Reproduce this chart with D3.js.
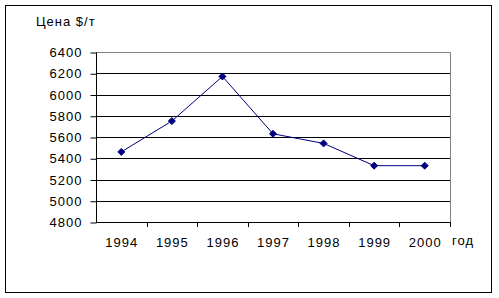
<!DOCTYPE html>
<html>
<head>
<meta charset="utf-8">
<script src="https://cdn.jsdelivr.net/npm/d3@7"></script>
<style>
  body { margin: 0; background: #fff; }
  text { font-family: "Liberation Sans", Arial, sans-serif; fill: #000; letter-spacing: 1px; }
</style>
</head>
<body>
<div class="wrapper"></div>
<script>
// data
const years = ["1994", "1995", "1996", "1997", "1998", "1999", "2000"];
const prices = [5460, 5750, 6170, 5630, 5540, 5330, 5330];
const yTicks = [4800, 5000, 5200, 5400, 5600, 5800, 6000, 6200, 6400];

const width = 499, height = 298;
const plotLeft = 96, plotRight = 450, plotTop = 52, plotBottom = 222;

const svg = d3.select(".wrapper")
  .append("svg")
  .attr("width", width)
  .attr("height", height);

// outer chart frame
svg.append("rect")
  .attr("x", 5.5).attr("y", 5.5)
  .attr("width", 486).attr("height", 287)
  .attr("fill", "none").attr("stroke", "#000").attr("stroke-width", 1);

const x = d3.scaleBand().domain(years).range([plotLeft, plotRight]);
const y = d3.scaleLinear().domain([4800, 6400]).range([plotBottom, plotTop]);

// gridlines
svg.append("g")
  .selectAll("line")
  .data(yTicks.filter(d => d > 4800 && d < 6400))
  .enter()
  .append("line")
  .attr("x1", plotLeft).attr("x2", plotRight)
  .attr("y1", d => Math.round(y(d)) + 0.5)
  .attr("y2", d => Math.round(y(d)) + 0.5)
  .attr("stroke", "#000");

// plot area border (grey top + right)
svg.append("path")
  .attr("d", "M" + plotLeft + "," + (plotTop + 0.5) + "H" + (plotRight + 0.5) + "V" + plotBottom)
  .attr("fill", "none").attr("stroke", "#808080");

// y axis
const yAxis = svg.append("g")
  .attr("transform", "translate(" + (plotLeft + 0.5) + ",0.5)")
  .call(d3.axisLeft(y).tickValues(yTicks).tickSize(6).tickPadding(8).tickFormat(d3.format("d")));
yAxis.select(".domain").attr("stroke", "#000").attr("d", "M0," + plotTop + "V" + plotBottom);
yAxis.selectAll(".tick line").attr("stroke", "#000");
yAxis.selectAll("text").style("font-size", "13px").attr("fill", "#000");

// x axis with ticks at category boundaries
svg.append("line")
  .attr("x1", plotLeft).attr("x2", plotRight + 1)
  .attr("y1", plotBottom + 0.5).attr("y2", plotBottom + 0.5)
  .attr("stroke", "#000");
svg.append("g")
  .selectAll("line")
  .data(years)
  .enter()
  .append("line")
  .attr("x1", d => Math.round(x(d) + x.bandwidth()) + 0.5)
  .attr("x2", d => Math.round(x(d) + x.bandwidth()) + 0.5)
  .attr("y1", plotBottom).attr("y2", plotBottom + 5)
  .attr("stroke", "#000");
svg.append("g")
  .selectAll("text")
  .data(years)
  .enter()
  .append("text")
  .attr("x", d => x(d) + x.bandwidth() / 2 + 0.5)
  .attr("y", 247)
  .attr("text-anchor", "middle")
  .style("font-size", "13px")
  .text(d => d);

// line + markers
const line = d3.line()
  .x((d, i) => x(years[i]) + x.bandwidth() / 2)
  .y(d => y(d));

svg.append("path")
  .datum(prices)
  .attr("d", line)
  .attr("fill", "none")
  .attr("stroke", "#000080")
  .attr("stroke-width", 1);

svg.append("g")
  .selectAll("path")
  .data(prices)
  .enter()
  .append("path")
  .attr("transform", (d, i) => "translate(" + (x(years[i]) + x.bandwidth() / 2) + "," + y(d) + ")")
  .attr("d", "M0,-3.5L3.5,0L0,3.5L-3.5,0Z")
  .attr("fill", "#000080")
  .attr("stroke", "#000080");

// axis titles
svg.append("text")
  .attr("x", 36).attr("y", 26)
  .style("font-size", "13px")
  .text("Цена $/т");

svg.append("text")
  .attr("x", 452).attr("y", 245)
  .style("font-size", "13px")
  .text("год");
</script>
</body>
</html>
